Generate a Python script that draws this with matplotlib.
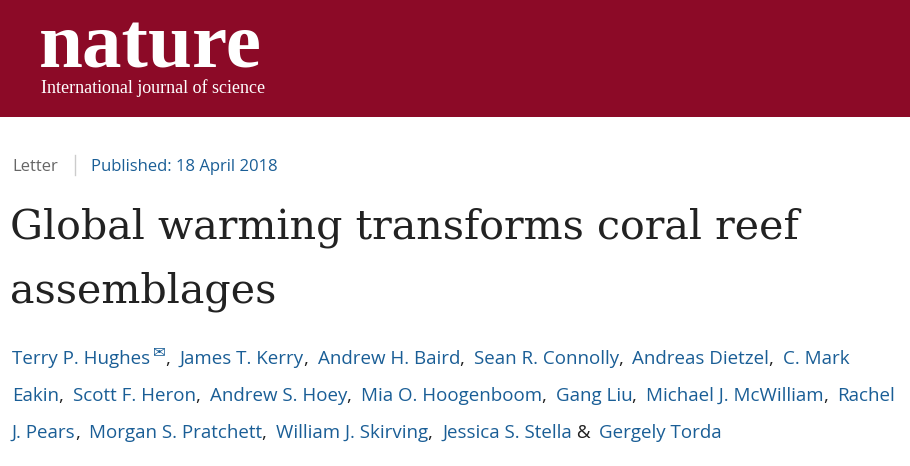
import matplotlib
matplotlib.use("Agg")
import matplotlib.pyplot as plt
from matplotlib.patches import Rectangle

W, H = 910, 466
RED = "#8c0a27"
BLUE = "#1a5e96"
DARK = "#222222"
GREY = "#666666"

brand = "nature"
tagline = "International journal of science"
article_type = "Letter"
published = "Published: 18 April 2018"
title_lines = ["Global warming transforms coral reef", "assemblages"]
author_lines = [
    ["Terry P. Hughes", "✉", ", ", "James T. Kerry", ", ", "Andrew H. Baird", ", ", "Sean R. Connolly", ", ",
     "Andreas Dietzel", ", ", "C. Mark"],
    ["Eakin", ", ", "Scott F. Heron", ", ", "Andrew S. Hoey", ", ", "Mia O. Hoogenboom", ", ", "Gang Liu", ", ",
     "Michael J. McWilliam", ", ", "Rachel"],
    ["J. Pears", ", ", "Morgan S. Pratchett", ", ", "William J. Skirving", ", ", "Jessica S. Stella", " & ",
     "Gergely Torda"],
]

fig = plt.figure(figsize=(W / 100, H / 100), dpi=100)
ax = fig.add_axes([0, 0, 1, 1])
ax.set_xlim(0, W)
ax.set_ylim(H, 0)
ax.axis("off")

ax.add_patch(Rectangle((0, 0), W, 117, color=RED, lw=0))
ax.text(39, 68, brand, fontsize=57, family="Liberation Serif", weight="bold", color="white", va="baseline")
ax.text(41, 93, tagline, fontsize=13, family="Liberation Serif", color="white", va="baseline")

sans = ["Open Sans", "DejaVu Sans"]
ax.text(12, 171, article_type, fontsize=12, family=sans, color=GREY, va="baseline")
ax.plot([75, 75], [155, 175], color="#cccccc", lw=1)
ax.text(91, 171, published, fontsize=12, family=sans, color=BLUE, va="baseline")

for i, line in enumerate(title_lines):
    ax.text(10, 238 + i * 65, line, fontsize=29.7, family="DejaVu Serif", color=DARK, va="baseline")

fig.canvas.draw()
r = fig.canvas.get_renderer()
inv = ax.transData.inverted()
for i, segs in enumerate(author_lines):
    x = 12
    y = 364 + i * 37
    for s in segs:
        if s == "✉":
            t = ax.text(x + 3, y - 8, s, fontsize=11, family="DejaVu Sans", color=BLUE, va="baseline")
        else:
            col = DARK if s.strip() in {",", "&"} else BLUE
            t = ax.text(x, y, s, fontsize=13.5, family=sans, color=col, va="baseline")
        bb = t.get_window_extent(renderer=r)
        x = inv.transform((bb.x1, bb.y0))[0]
        if s.endswith(" "):
            x += 4

fig.savefig("out.png", dpi=100)
